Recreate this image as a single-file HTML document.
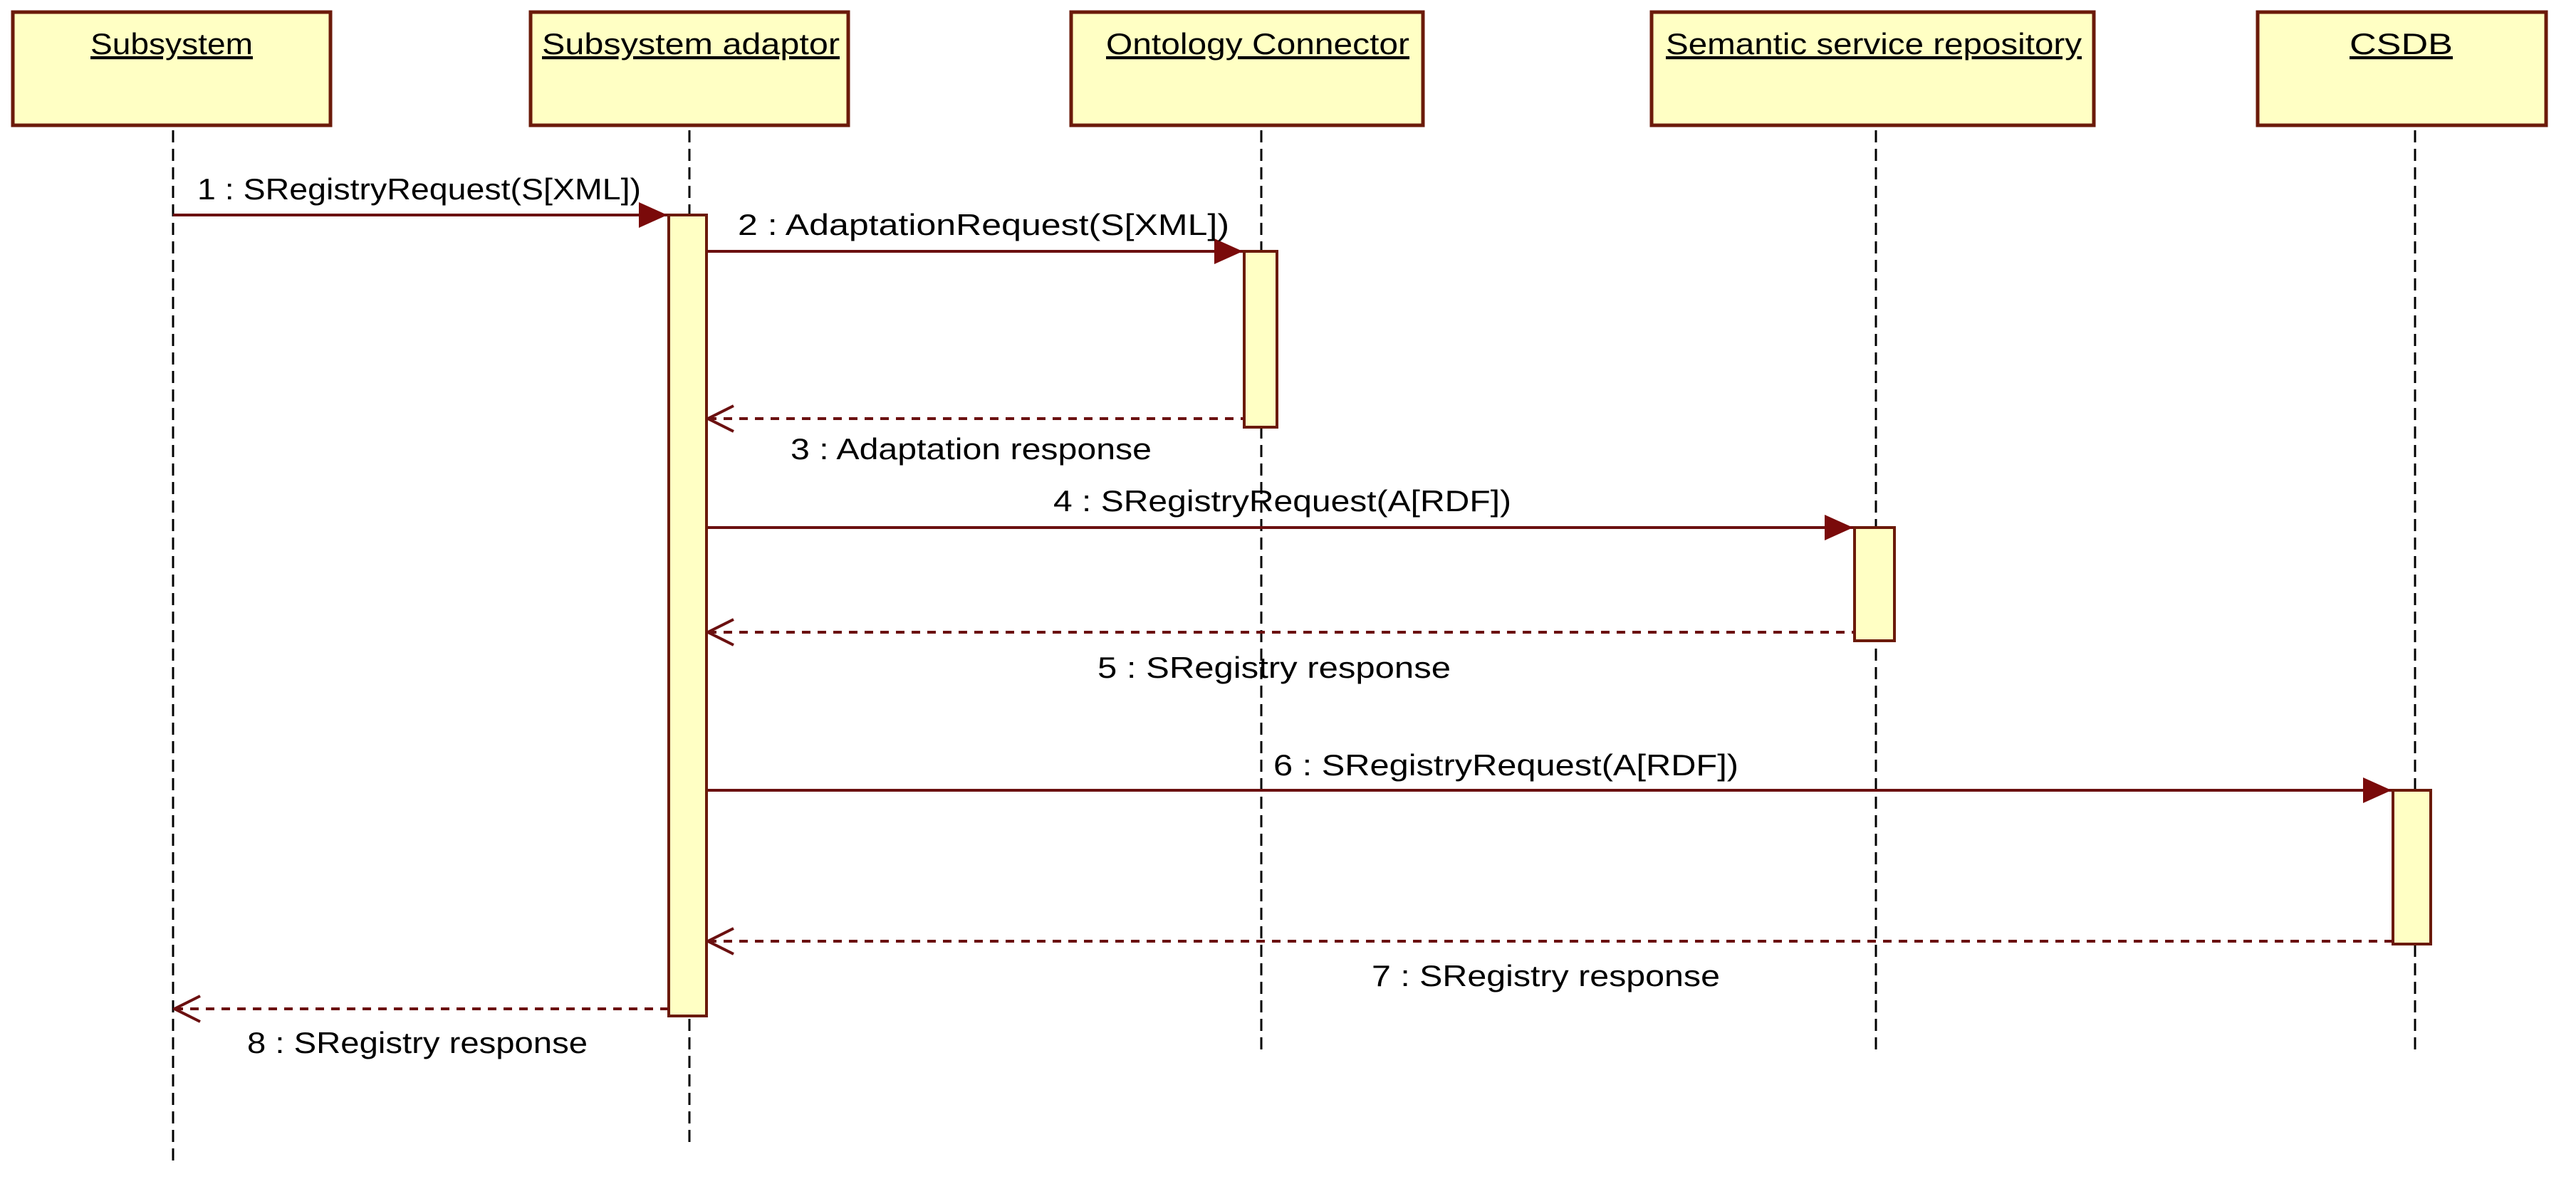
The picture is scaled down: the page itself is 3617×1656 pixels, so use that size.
<!DOCTYPE html>
<html><head><meta charset="utf-8"><style>html,body{margin:0;padding:0;background:#fff}svg{display:block}</style></head>
<body>
<svg width="3617" height="1656" viewBox="0 0 3617 1656" xmlns="http://www.w3.org/2000/svg" font-family="Liberation Sans, sans-serif">
<defs>
<marker id="fa" viewBox="0 0 40 36" refX="40" refY="18" markerWidth="40" markerHeight="36" markerUnits="userSpaceOnUse" orient="auto"><path d="M0,0 L40,18 L0,36 Z" fill="#7a0a0a"/></marker>
<marker id="oa" viewBox="0 0 40 40" refX="2" refY="20" markerWidth="40" markerHeight="40" markerUnits="userSpaceOnUse" orient="auto"><path d="M38,2 L2,20 L38,38" fill="none" stroke="#6b1010" stroke-width="4"/></marker>
</defs>
<g fill="#ffffc4" stroke="#6b1a0a" stroke-width="5">
<rect x="18" y="17" width="446" height="159"/>
<rect x="745" y="17" width="446" height="159"/>
<rect x="1504" y="17" width="494" height="159"/>
<rect x="2319" y="17" width="621" height="159"/>
<rect x="3170" y="17" width="405" height="159"/>
</g>
<g font-size="42" fill="#000" text-decoration="underline">
<text x="127" y="76" textLength="228" lengthAdjust="spacingAndGlyphs">Subsystem</text>
<text x="761" y="76" textLength="418" lengthAdjust="spacingAndGlyphs">Subsystem adaptor</text>
<text x="1553" y="76" textLength="426" lengthAdjust="spacingAndGlyphs">Ontology Connector</text>
<text x="2339" y="76" textLength="584" lengthAdjust="spacingAndGlyphs">Semantic service repository</text>
<text x="3299" y="76" textLength="145" lengthAdjust="spacingAndGlyphs">CSDB</text>
</g>
<g stroke="#000" stroke-width="3" stroke-dasharray="17,9">
<line x1="243" y1="183" x2="243" y2="1632"/>
<line x1="968" y1="183" x2="968" y2="1608"/>
<line x1="1771" y1="183" x2="1771" y2="1483"/>
<line x1="2634" y1="183" x2="2634" y2="1483"/>
<line x1="3391" y1="183" x2="3391" y2="1483"/>
</g>
<g fill="#ffffc4" stroke="#6b1a0a" stroke-width="4">
<rect x="939" y="302" width="53" height="1125"/>
<rect x="1747" y="353" width="46" height="247"/>
<rect x="2604" y="741" width="56" height="159"/>
<rect x="3360" y="1110" width="53" height="216"/>
</g>
<g stroke="#6b1010" stroke-width="4" fill="none">
<line x1="243" y1="302" x2="937" y2="302" marker-end="url(#fa)"/>
<line x1="992" y1="353" x2="1745" y2="353" marker-end="url(#fa)"/>
<line x1="994" y1="741" x2="2602" y2="741" marker-end="url(#fa)"/>
<line x1="994" y1="1110" x2="3358" y2="1110" marker-end="url(#fa)"/>
<g stroke-dasharray="12,10">
<line x1="994" y1="588" x2="1747" y2="588" marker-start="url(#oa)"/>
<line x1="994" y1="888" x2="2604" y2="888" marker-start="url(#oa)"/>
<line x1="994" y1="1322" x2="3360" y2="1322" marker-start="url(#oa)"/>
<line x1="245" y1="1417" x2="939" y2="1417" marker-start="url(#oa)"/>
</g>
</g>
<g font-size="42" fill="#000">
<text x="277" y="280" textLength="623" lengthAdjust="spacingAndGlyphs">1 : SRegistryRequest(S[XML])</text>
<text x="1036" y="330" textLength="690" lengthAdjust="spacingAndGlyphs">2 : AdaptationRequest(S[XML])</text>
<text x="1110" y="645" textLength="507" lengthAdjust="spacingAndGlyphs">3 : Adaptation response</text>
<text x="1479" y="718" textLength="643" lengthAdjust="spacingAndGlyphs">4 : SRegistryRequest(A[RDF])</text>
<text x="1541" y="952" textLength="496" lengthAdjust="spacingAndGlyphs">5 : SRegistry response</text>
<text x="1788" y="1089" textLength="653" lengthAdjust="spacingAndGlyphs">6 : SRegistryRequest(A[RDF])</text>
<text x="1926" y="1385" textLength="489" lengthAdjust="spacingAndGlyphs">7 : SRegistry response</text>
<text x="347" y="1479" textLength="478" lengthAdjust="spacingAndGlyphs">8 : SRegistry response</text>
</g>
</svg>
</body></html>
